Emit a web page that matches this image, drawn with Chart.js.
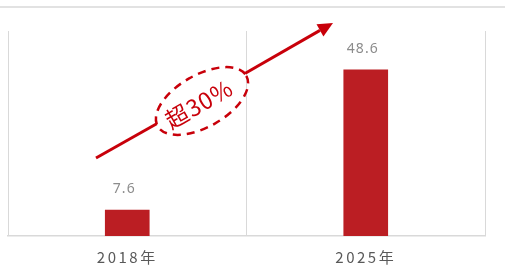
<!DOCTYPE html>
<html>
<head>
<meta charset="utf-8">
<script src="https://cdn.jsdelivr.net/npm/chart.js@4/dist/chart.umd.min.js"></script>
<style>
  html, body { margin: 0; padding: 0; background: #fff; }
  canvas { display: block; }
</style>
</head>
<body>
<canvas id="growth" width="505" height="267"></canvas>
<script>
// data
const years = ['2018年', '2025年'];
const values = [7.6, 48.6];
const yMax = 60;
const badge = '超30%';

const red = '#bb1e23';
const arrowRed = '#c8000a';
const gridGray = '#d9d9d9';

// value labels on top of the bars
const valueLabels = {
  id: 'valueLabels',
  afterDatasetsDraw(chart) {
    const ctx = chart.ctx;
    const meta = chart.getDatasetMeta(0);
    ctx.save();
    ctx.font = '14px "Noto Sans", "Noto Sans CJK SC", sans-serif';
    ctx.letterSpacing = '1px';
    ctx.fillStyle = '#8c8c8c';
    ctx.textAlign = 'center';
    ctx.textBaseline = 'middle';
    meta.data.forEach((bar, i) => {
      ctx.fillText(values[i].toString(), bar.x - 3, bar.y - 21);
    });
    ctx.restore();
  }
};

// top rule, growth arrow and dashed badge
const decor = {
  id: 'decor',
  beforeDraw(chart) {
    const ctx = chart.ctx;
    ctx.save();
    ctx.strokeStyle = gridGray;
    ctx.lineWidth = 1.5;
    ctx.beginPath();
    ctx.moveTo(0, 7);
    ctx.lineTo(chart.width, 7);
    ctx.stroke();
    ctx.restore();
    // spaced out tick labels like the original
    ctx.letterSpacing = '2.5px';
  },
  afterDraw(chart) {
    const ctx = chart.ctx;
    const x0 = 96, y0 = 158, x1 = 333, y1 = 23;
    const ang = Math.atan2(y1 - y0, x1 - x0);
    const cx = 202, cy = 101;
    const a = 51, b = 26;
    const lx = 201, ly = 98.5;
    const along = (t) => [lx + t * Math.cos(ang), ly + t * Math.sin(ang)];

    ctx.save();
    ctx.letterSpacing = '0px';
    ctx.strokeStyle = arrowRed;
    ctx.fillStyle = arrowRed;
    ctx.lineWidth = 3;
    ctx.lineCap = 'butt';

    // lower segment
    const pA = along(-a);
    ctx.beginPath();
    ctx.moveTo(x0, y0);
    ctx.lineTo(pA[0], pA[1]);
    ctx.stroke();

    // upper segment, stop before the head
    const headLen = 15, headW = 7;
    const pB = along(a);
    const hx = x1 - headLen * Math.cos(ang), hy = y1 - headLen * Math.sin(ang);
    ctx.beginPath();
    ctx.moveTo(pB[0], pB[1]);
    ctx.lineTo(hx, hy);
    ctx.stroke();

    // head
    ctx.beginPath();
    ctx.moveTo(x1, y1);
    ctx.lineTo(hx + headW * Math.sin(ang), hy - headW * Math.cos(ang));
    ctx.lineTo(hx - headW * Math.sin(ang), hy + headW * Math.cos(ang));
    ctx.closePath();
    ctx.fill();

    // dashed ellipse
    ctx.lineWidth = 2.5;
    ctx.setLineDash([8, 6]);
    ctx.beginPath();
    ctx.ellipse(cx, cy, a, b, ang, 0, Math.PI * 2);
    ctx.stroke();
    ctx.setLineDash([]);

    // badge text
    ctx.translate(cx - 3, cy + 3);
    ctx.rotate(ang);
    ctx.font = '23px "Noto Sans CJK SC", sans-serif';
    ctx.letterSpacing = '1px';
    ctx.textAlign = 'center';
    ctx.textBaseline = 'middle';
    ctx.fillText(badge, 0, 0);
    ctx.restore();
  }
};

new Chart(document.getElementById('growth'), {
  type: 'bar',
  data: {
    labels: years,
    datasets: [{
      data: values,
      backgroundColor: red,
      barThickness: 44
    }]
  },
  options: {
    responsive: false,
    devicePixelRatio: 1,
    animation: false,
    layout: { padding: { left: 8, right: 20, top: 31, bottom: 0 } },
    plugins: {
      legend: { display: false },
      tooltip: { enabled: false }
    },
    scales: {
      x: {
        grid: { offset: true, color: gridGray, drawTicks: false, lineWidth: 1 },
        border: { color: gridGray, width: 1.5 },
        ticks: {
          color: '#595959',
          padding: 12,
          font: { size: 15, family: '"Noto Sans CJK SC", sans-serif' }
        },
        afterFit(scale) {
          scale.height = 31;
        }
      },
      y: {
        display: false,
        min: 0,
        max: yMax
      }
    }
  },
  plugins: [valueLabels, decor]
});
</script>
</body>
</html>
